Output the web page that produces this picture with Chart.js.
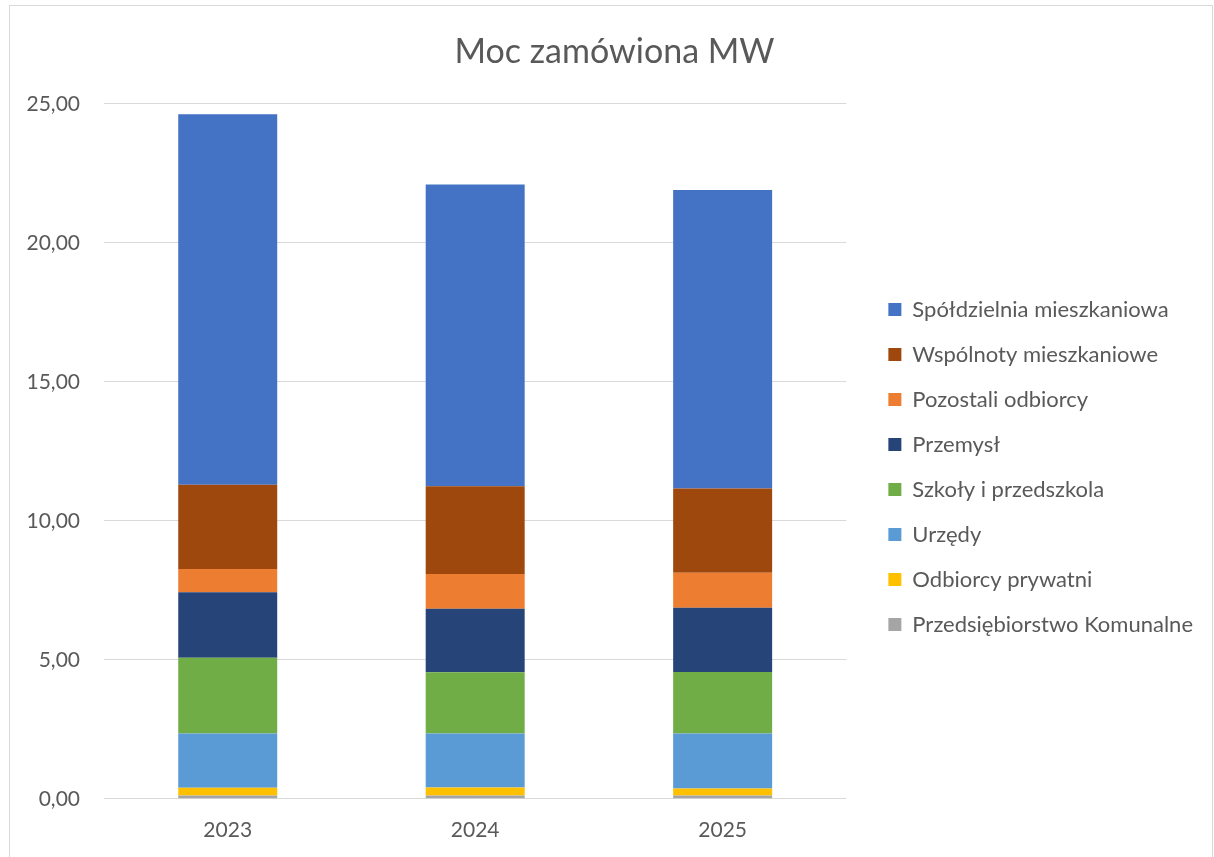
<!DOCTYPE html>
<html>
<head>
<meta charset="utf-8">
<script src="https://cdn.jsdelivr.net/npm/chart.js@4"></script>
<style>
  body { margin: 0; background: #fff; }
  #wrap { position: absolute; left: 9px; top: 5px; width: 1204px; height: 860px; border: 1px solid #d9d9d9; box-sizing: border-box; }
  canvas { display: block; }
</style>
</head>
<body>
<div id="wrap"><canvas id="moc" width="1202" height="858"></canvas></div>
<script>
const years = ['2023', '2024', '2025'];

// segments from bottom to top of each stack (MW)
const komunalne    = [0.12, 0.12, 0.12];
const prywatni     = [0.28, 0.29, 0.25];
const urzedy       = [1.95, 1.94, 1.98];
const szkoly       = [2.72, 2.20, 2.21];
const przemysl     = [2.36, 2.29, 2.31];
const pozostali    = [0.84, 1.25, 1.26];
const wspolnoty    = [3.03, 3.15, 3.03];
const spoldzielnia = [13.32, 10.86, 10.74];

const txt = '#595959';
const font = 'Lato, "Liberation Sans", sans-serif';

const ctx = document.getElementById('moc').getContext('2d');

new Chart(ctx, {
  type: 'bar',
  data: {
    labels: years,
    datasets: [
      { label: 'Przedsiębiorstwo Komunalne', data: komunalne, backgroundColor: '#A5A5A5' },
      { label: 'Odbiorcy prywatni', data: prywatni, backgroundColor: '#FFC000' },
      { label: 'Urzędy', data: urzedy, backgroundColor: '#5B9BD5' },
      { label: 'Szkoły i przedszkola', data: szkoly, backgroundColor: '#70AD47' },
      { label: 'Przemysł', data: przemysl, backgroundColor: '#264478' },
      { label: 'Pozostali odbiorcy', data: pozostali, backgroundColor: '#ED7D31' },
      { label: 'Wspólnoty mieszkaniowe', data: wspolnoty, backgroundColor: '#9E480E' },
      { label: 'Spółdzielnia mieszkaniowa', data: spoldzielnia, backgroundColor: '#4472C4' },
    ],
  },
  options: {
    responsive: false,
    animation: false,
    layout: { padding: { left: 16, right: 9, top: 10, bottom: 2 } },
    datasets: { bar: { categoryPercentage: 1, barPercentage: 0.4 } },
    plugins: {
      title: {
        display: true,
        text: 'Moc zamówiona MW',
        color: txt,
        font: { family: font, size: 34, weight: 'normal' },
        padding: { top: 16, bottom: 31 },
      },
      legend: {
        position: 'right',
        reverse: true,
        maxWidth: 400, // otherwise the layout caps it and cuts the labels
        // empty title only pushes the entries down a bit
        title: { display: true, text: ' ', font: { size: 10 }, padding: { top: 22, bottom: 22 } },
        labels: {
          color: txt,
          font: { family: font, size: 22 },
          boxWidth: 13,
          boxHeight: 13,
          padding: 23,
        },
      },
      tooltip: { enabled: false },
    },
    scales: {
      x: {
        stacked: true,
        grid: { display: false, drawTicks: false },
        border: { display: false },
        ticks: { color: txt, font: { family: font, size: 21 }, padding: 19 },
      },
      y: {
        stacked: true,
        min: 0,
        max: 25,
        afterFit: (s) => { s.width = 78; },
        ticks: {
          stepSize: 5,
          color: txt,
          font: { family: font, size: 21 },
          padding: 24,
          callback: (v) => v.toFixed(2).replace('.', ','),
        },
        grid: { color: '#d9d9d9', lineWidth: 1, drawTicks: false },
        border: { display: false },
      },
      // spacer between the plot and the legend
      gap: {
        position: 'right',
        display: true,
        grid: { display: false },
        border: { display: false },
        ticks: { display: false },
        afterFit: (s) => { s.width = 19; },
      },
    },
  },
});
</script>
</body>
</html>
